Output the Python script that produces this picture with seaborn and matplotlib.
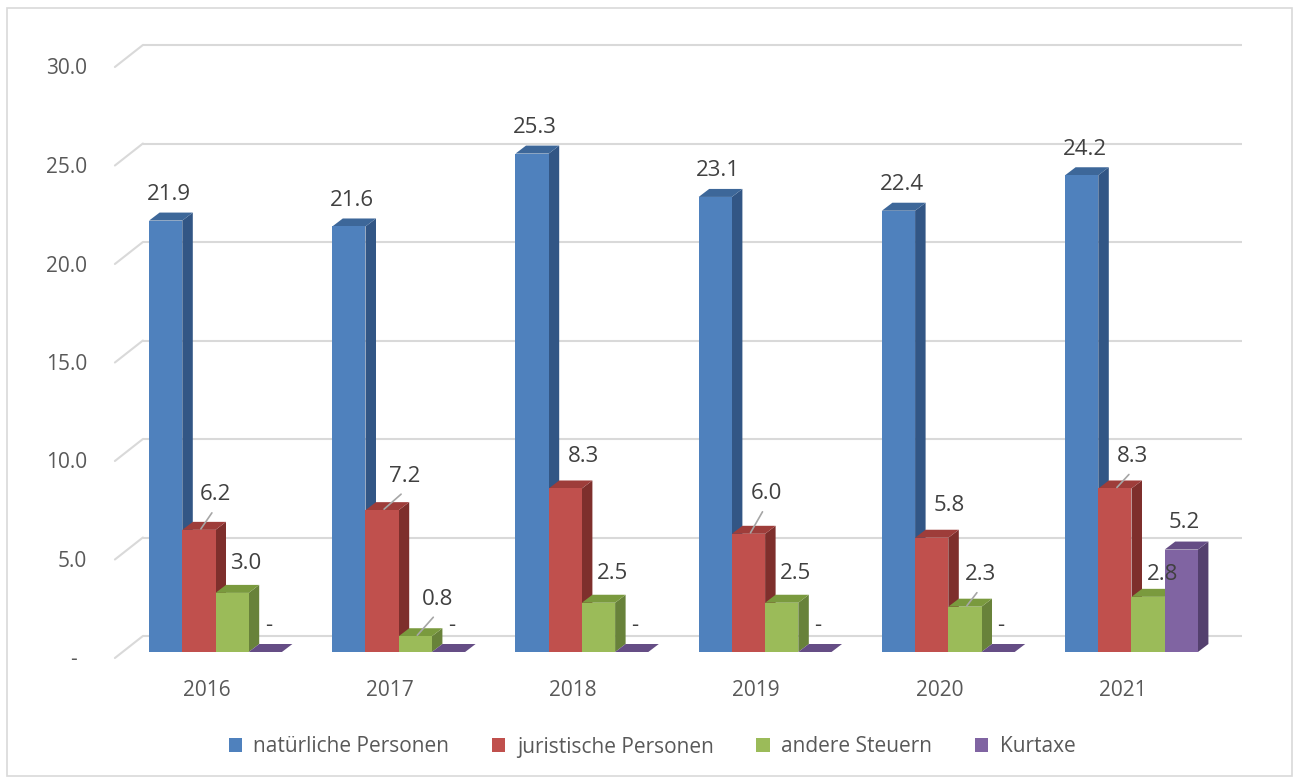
import matplotlib
matplotlib.use("Agg")
import matplotlib.pyplot as plt
import matplotlib.transforms as mtransforms
from matplotlib.patches import Polygon, Rectangle, Patch
import numpy as np
import pandas as pd
import seaborn as sns

# --- data -------------------------------------------------------------
years = ["2016", "2017", "2018", "2019", "2020", "2021"]
series = ["natürliche Personen", "juristische Personen", "andere Steuern", "Kurtaxe"]
natuerliche = [21.9, 21.6, 25.3, 23.1, 22.4, 24.2]
juristische = [6.2, 7.2, 8.3, 6.0, 5.8, 8.3]
andere = [3.0, 0.8, 2.5, 2.5, 2.3, 2.8]
kurtaxe = [0.0, 0.0, 0.0, 0.0, 0.0, 5.2]
y_ticks = [0, 5, 10, 15, 20, 25, 30]
y_tick_labels = ["-", "5.0", "10.0", "15.0", "20.0", "25.0", "30.0"]

# --- styling ------------------------------------------------------------
front_colors = ["#4F81BD", "#C0504D", "#9BBB59", "#8064A2"]
top_colors = ["#3D6799", "#9E3D3A", "#7A9A3E", "#654D85"]
side_colors = ["#325685", "#7E2F2C", "#68823A", "#54406E"]
grid_color = "#D9D9D9"
text_color = "#404040"
axis_text_color = "#595959"

sns.set_theme(style="white")
plt.rcParams["font.family"] = ["Open Sans", "DejaVu Sans"]

W, H = 1298, 782
fig = plt.figure(figsize=(W / 100, H / 100), dpi=100)
fig.patch.set_facecolor("white")

# axes placed in pixel terms (front face of bars)
x_left, x_right = 123.9, 1223.1
y_zero, y_top = 652.0, 61.0
ax = fig.add_axes([x_left / W, (H - y_zero) / H,
                   (x_right - x_left) / W, (y_zero - y_top) / H])

df = pd.DataFrame({
    "Jahr": np.repeat(years, len(series)),
    "Art": series * len(years),
    "Wert": np.ravel(np.column_stack([natuerliche, juristische, andere, kurtaxe])),
})

sns.barplot(data=df, x="Jahr", y="Wert", hue="Art", hue_order=series,
            palette=front_colors, saturation=1, width=0.725, errorbar=None,
            linewidth=0, legend=False, ax=ax)

ax.set_xlim(-0.5, len(years) - 0.5)
ax.set_ylim(0, 30)
ax.set_axis_off()

# pixel -> data scale factors
p0 = ax.transData.transform((0, 0))
p1 = ax.transData.transform((1, 1))
sx, sy = p1[0] - p0[0], p1[1] - p0[1]


def shifted(dx, dy):
    return ax.transData + mtransforms.Affine2D().translate(dx, dy)


front_off = (-9, -6)
back_off = (19, 16)
bar_depth = (10.5 / sx, 8 / sy)

# back wall gridlines with left-side perspective edges
for v, lab in zip(y_ticks, y_tick_labels):
    ax.plot([-0.5, len(years) - 0.5], [v, v], color=grid_color, lw=1.5,
            transform=shifted(*back_off), zorder=0, clip_on=False,
            solid_capstyle="butt")
    fx, fy = ax.transData.transform((-0.5, v))
    ax.add_line(plt.Line2D([fx + front_off[0], fx + back_off[0]],
                           [fy + front_off[1], fy + back_off[1]],
                           transform=None, color=grid_color, lw=1.5, zorder=0,
                           clip_on=False))
    ax.text(-0.5, v, lab, transform=shifted(-37 if v else -47, -8),
            ha="right", va="center", fontsize=15, color=axis_text_color,
            clip_on=False)

for i, yr in enumerate(years):
    ax.text(i, 0, yr, transform=shifted(-9, -38), ha="center", va="center",
            fontsize=15, color=axis_text_color, clip_on=False)

# 3D faces: top and right side for every bar
dx, dy = bar_depth
for h, cont in enumerate(ax.containers):
    for bar in cont.patches:
        x0, w, ht = bar.get_x(), bar.get_width(), bar.get_height()
        bar.set_zorder(3 + 2 * h)
        top = Polygon([(x0, ht), (x0 + w, ht), (x0 + w + dx, ht + dy), (x0 + dx, ht + dy)],
                      closed=True, facecolor=top_colors[h], edgecolor="none",
                      zorder=2 + 2 * h)
        side = Polygon([(x0 + w, 0), (x0 + w + dx, dy), (x0 + w + dx, ht + dy), (x0 + w, ht)],
                       closed=True, facecolor=side_colors[h], edgecolor="none",
                       zorder=2 + 2 * h)
        ax.add_patch(side)
        ax.add_patch(top)

# value labels (pixel offsets from the centre of each bar's top edge)
hue_offsets = [(3, 26), (18, 32), (14, 29), (3, 27)]
custom_offsets = {
    (1, 0): (17, 35), (1, 1): (23, 34), (1, 3): (18, 40), (1, 5): (18, 32),
    (2, 1): (22, 37), (2, 4): (16, 32), (2, 5): (14, 22),
}
leaders = {(1, 0), (1, 1), (1, 3), (1, 5), (2, 1), (2, 4)}
values = [natuerliche, juristische, andere, kurtaxe]
for h, cont in enumerate(ax.containers):
    for i, bar in enumerate(cont.patches):
        val = values[h][i]
        cx = bar.get_x() + bar.get_width() / 2
        ox, oy = custom_offsets.get((h, i), hue_offsets[h])
        label = "-" if val == 0 else f"{val:.1f}"
        ax.text(cx, val, label, transform=shifted(ox, oy), ha="center",
                va="center", fontsize=16, color=text_color, zorder=20,
                clip_on=False)
        if (h, i) in leaders:
            bx, by = ax.transData.transform((cx, val))
            ax.add_line(plt.Line2D([bx + 2, bx + ox - 4], [by + 1, by + oy - 18],
                                   transform=None, color="#A6A6A6", lw=1.2,
                                   zorder=19, clip_on=False))

# legend
handles = [Patch(facecolor=c, edgecolor="none") for c in front_colors]
fig.legend(handles, series, loc="center", bbox_to_anchor=(652 / W, 1 - 747 / H),
           ncol=4, frameon=False, fontsize=15, labelcolor=axis_text_color,
           handlelength=0.64, handleheight=0.64, handletextpad=0.55,
           columnspacing=2.05)

# chart border
fig.add_artist(Rectangle((7 / W, 1 - 776 / H), (1292 - 7) / W, (776 - 8) / H,
                         transform=fig.transFigure, fill=False,
                         edgecolor=grid_color, lw=1.2))

fig.savefig("out.png", dpi=100, facecolor="white")
